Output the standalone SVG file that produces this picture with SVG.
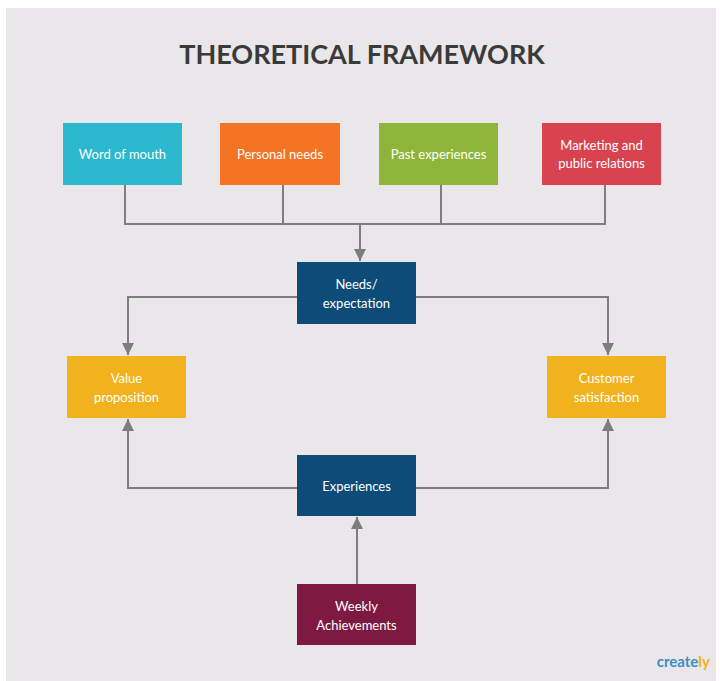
<svg xmlns="http://www.w3.org/2000/svg" width="720" height="681" viewBox="0 0 720 681">
<style>
.box text{font-family:Lato,"Liberation Sans",sans-serif;font-size:13px;fill:#fff;text-anchor:middle}
.ln{fill:none;stroke:#7d7d7d;stroke-width:2}
</style>
<defs><marker id="ar" markerWidth="8" markerHeight="8" refX="6" refY="4" orient="auto" markerUnits="userSpaceOnUse" viewBox="0 0 8 8"><path d="M0,0L8,4L0,8Z" fill="#7d7d7d"/></marker>
<marker id="a" markerWidth="14" markerHeight="12" refX="12" refY="6" orient="auto" markerUnits="userSpaceOnUse"><path d="M0,0L12,6L0,12Z" fill="#7d7d7d"/></marker></defs>
<rect width="720" height="681" fill="#fff"/>
<rect x="6" y="8" width="710" height="673" fill="#e9e7e9"/>
<text x="362" y="64" font-family="Lato,'Liberation Sans',sans-serif" font-size="27" font-weight="bold" fill="#3a3a3a" text-anchor="middle">THEORETICAL FRAMEWORK</text>
<g id="connectors">
<path class="ln" d="M125,185V224H605V185M283,185V224M441,185V224"/>
<path class="ln" d="M360,224V261" marker-end="url(#a)"/>
<path class="ln" d="M297,297H128V355" marker-end="url(#a)"/>
<path class="ln" d="M416,297H608V355" marker-end="url(#a)"/>
<path class="ln" d="M297,488H128V419" marker-end="url(#a)"/>
<path class="ln" d="M416,488H608V419" marker-end="url(#a)"/>
<path class="ln" d="M357,584V517" marker-end="url(#a)"/>
</g>
<g id="n1" class="box"><rect x="63" y="123" width="119" height="62" fill="#2bb8cf"/><text x="122.5" y="159">Word of mouth</text></g>
<g id="n2" class="box"><rect x="220" y="123" width="120" height="62" fill="#f27424"/><text x="280" y="159">Personal needs</text></g>
<g id="n3" class="box"><rect x="379" y="123" width="119" height="62" fill="#8fb43a"/><text x="438.5" y="159">Past experiences</text></g>
<g id="n4" class="box"><rect x="542" y="123" width="119" height="62" fill="#d8434f"/><text x="601.5" y="150">Marketing and</text><text x="601.5" y="168">public relations</text></g>
<g id="n5" class="box"><rect x="297" y="262" width="119" height="62" fill="#0d4c78"/><text x="356.5" y="289">Needs/</text><text x="356.5" y="308">expectation</text></g>
<g id="n6" class="box"><rect x="67" y="356" width="119" height="62" fill="#f1b21d"/><text x="126.5" y="383">Value</text><text x="126.5" y="402">proposition</text></g>
<g id="n7" class="box"><rect x="547" y="356" width="119" height="62" fill="#f1b21d"/><text x="606.5" y="383">Customer</text><text x="606.5" y="402">satisfaction</text></g>
<g id="n8" class="box"><rect x="297" y="455" width="119" height="61" fill="#0d4c78"/><text x="356.5" y="491">Experiences</text></g>
<g id="n9" class="box"><rect x="297" y="584" width="119" height="61" fill="#7e1a42"/><text x="356.5" y="611">Weekly</text><text x="356.5" y="630">Achievements</text></g>
<text x="710" y="667" font-family="Lato,'Liberation Sans',sans-serif" font-size="15" font-weight="bold" fill="#3b8fc4" text-anchor="end">create<tspan fill="#f1b21d">ly</tspan></text>
</svg>
